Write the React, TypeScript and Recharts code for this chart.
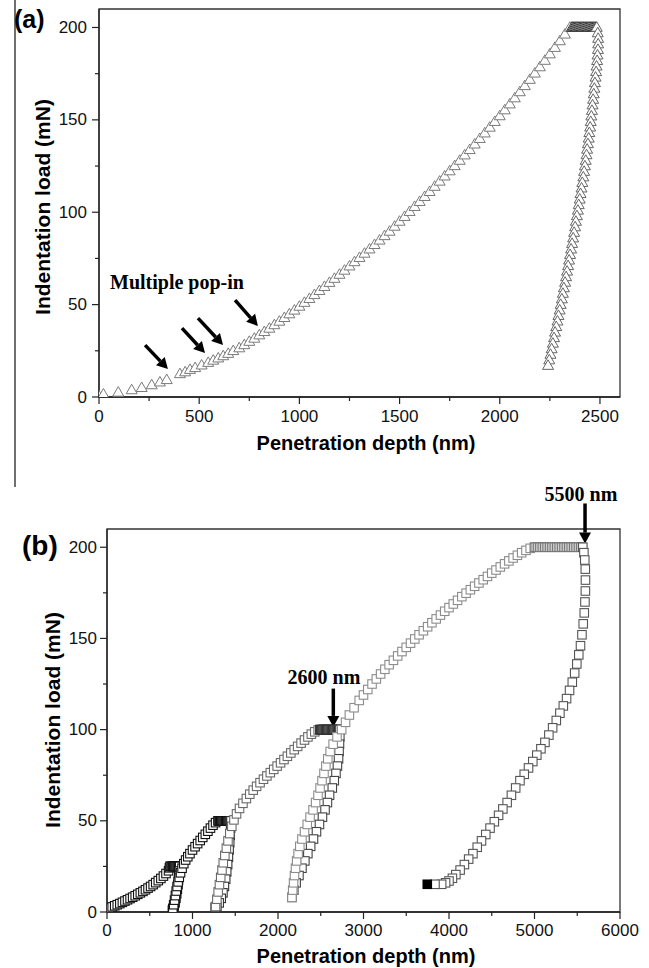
import React from 'react';
import { ScatterChart, Scatter, XAxis, YAxis, ReferenceLine, ReferenceArea } from 'recharts';

type Pt = [number, number];
const pts = (a: Pt[]) => a.map(([x, y]) => ({ x, y }));

// ---------- panel (a) ----------
const aLoading: Pt[] = [
  [0, 0.5], [22, 1.5], [96, 2.5], [163, 3.8], [213, 5], [263, 6.5], [304, 8], [338, 9.3],
  [404, 12.5], [430, 13.5], [454, 14.8], [480, 15.8], [512, 17.2], [545, 18.6], [570, 19.8],
  [595, 21], [620, 22.2], [645, 23.5], [670, 25], [700, 26.5], [725, 28.2], [750, 30],
  [775, 31.7], [800, 33.5], [825, 35.3], [850, 37.1], [875, 39], [900, 40.9], [925, 42.9],
  [950, 44.9], [975, 46.9], [1000, 49], [1025, 51.1], [1050, 53.2], [1075, 55.3], [1100, 57.5],
  [1125, 59.7], [1150, 61.9], [1175, 64.1], [1200, 66.3], [1225, 68.5], [1250, 70.8],
  [1275, 73.1], [1300, 75.4], [1325, 77.7], [1350, 80], [1375, 82.4], [1400, 84.8],
  [1425, 87.2], [1450, 89.6], [1475, 92.3], [1500, 95], [1525, 97.6], [1550, 100.3],
  [1575, 103], [1600, 105.7], [1625, 108.4], [1650, 111.1], [1675, 113.9], [1700, 116.7],
  [1725, 119.5], [1750, 122.3], [1775, 125.1], [1800, 128], [1825, 130.9], [1850, 133.8],
  [1875, 136.8], [1900, 139.8], [1925, 142.8], [1950, 145.9], [1975, 149], [2000, 152.1],
  [2025, 155.3], [2050, 158.5], [2075, 161.8], [2100, 165.1], [2125, 168.4], [2150, 171.8],
  [2175, 175.2], [2200, 178.6], [2225, 182.1], [2250, 185.6], [2275, 189.1], [2300, 192.7],
  [2325, 196.3], [2350, 200],
];
const aHold: Pt[] = [
  [2360, 200], [2366, 200], [2372, 200], [2378, 200], [2384, 200], [2390, 200], [2396, 200],
  [2402, 200], [2408, 200], [2414, 200], [2420, 200], [2426, 200], [2432, 200], [2438, 200],
  [2444, 200], [2450, 200], [2456, 200], [2462, 200], [2468, 200], [2474, 200], [2480, 200],
];
const aUnloading: Pt[] = [
  [2484, 200], [2489, 197], [2491, 194], [2491, 191], [2490, 188], [2488, 185], [2486, 182],
  [2483, 179], [2481, 176], [2478, 173], [2475, 170], [2472, 167], [2469, 164], [2466, 161],
  [2463, 158], [2460, 155], [2457, 152], [2454, 149], [2451, 146], [2447, 143], [2444, 140],
  [2440, 137], [2436, 134], [2433, 131], [2429, 128], [2425, 125], [2421, 122], [2417, 119],
  [2412, 116], [2408, 113], [2403, 110], [2399, 107], [2394, 104], [2390, 101], [2385, 98],
  [2380, 95], [2376, 92], [2371, 89], [2366, 86], [2361, 83], [2356, 80], [2351, 77],
  [2346, 74], [2341, 71], [2336, 68], [2331, 65], [2326, 62], [2320, 59], [2315, 56],
  [2310, 53], [2304, 50], [2299, 47], [2293, 44], [2288, 41], [2282, 38], [2276, 35],
  [2271, 32], [2265, 29], [2259, 26], [2253, 23], [2247, 20], [2241, 17],
];
const aXTicks = [0, 250, 500, 750, 1000, 1250, 1500, 1750, 2000, 2250, 2500];
const aYTicks = [0, 25, 50, 75, 100, 125, 150, 175, 200];
// pop-in arrows: [tailX, tailY, headX, headY]
const aArrows = [
  [230, 28.1, 344, 15.1],
  [414, 37.3, 529, 23.8],
  [494, 42.7, 619, 28.1],
  [679, 52.4, 793, 38.4],
];

// ---------- panel (b) ----------
const bLoad1: Pt[] = [
  [0, 1.5], [30, 2.2], [60, 2.8], [90, 3.4], [120, 4], [150, 4.6], [180, 5.3], [210, 6],
  [240, 6.7], [270, 7.4], [300, 8.1], [330, 8.9], [360, 9.7], [390, 10.5], [420, 11.3],
  [450, 12.2], [480, 13.1], [510, 14], [540, 15], [570, 16.1], [600, 17.2], [630, 18.4],
  [660, 19.7], [690, 21.1], [720, 22.6], [730, 24.2], [740, 25],
];
const bHold1: Pt[] = [
  [740, 25], [750, 25], [760, 25], [770, 25], [780, 25], [790, 25], [800, 25], [810, 25],
  [820, 25], [830, 25], [840, 25], [850, 25],
];
const bUnload1: Pt[] = [
  [850, 25], [846, 22.5], [841, 20], [836, 17.5], [830, 15], [823, 12.5], [815, 10],
  [806, 7.5], [796, 5], [785, 3], [772, 1.5], [765, 1],
];
const bLoad2: Pt[] = [
  [770, 2], [780, 4], [790, 6.5], [800, 9], [810, 11.5], [820, 14], [832, 16.5], [845, 19],
  [860, 21.5], [878, 24], [898, 26.5], [920, 28.5], [945, 30.3], [970, 32], [1000, 34],
  [1030, 35.8], [1060, 37.5], [1090, 39.2], [1120, 40.9], [1150, 42.6], [1180, 44.3],
  [1210, 46], [1240, 47.6], [1270, 49], [1300, 50],
];
const bHold2: Pt[] = [
  [1300, 50], [1310, 50], [1320, 50], [1330, 50], [1340, 50], [1350, 50], [1360, 50],
  [1370, 50], [1380, 50], [1390, 50], [1400, 50], [1410, 50], [1420, 50], [1430, 50],
  [1440, 50], [1450, 50],
];
const bUnload2: Pt[] = [
  [1450, 50], [1446, 46], [1441, 42], [1435, 38], [1428, 34], [1420, 30], [1411, 26],
  [1400, 22], [1388, 18], [1373, 14], [1356, 10.5], [1336, 7.5], [1312, 5], [1285, 3],
  [1265, 2.5],
];
const bLoad3: Pt[] = [
  [1270, 3], [1285, 7], [1300, 11], [1315, 15], [1330, 19], [1345, 23], [1360, 27],
  [1378, 31], [1396, 35], [1415, 39], [1436, 43], [1460, 47], [1485, 50.5], [1515, 53.8],
  [1550, 56.8], [1590, 59.6], [1630, 62.2], [1670, 64.6], [1710, 66.8], [1750, 68.9],
  [1790, 70.9], [1830, 72.8], [1870, 74.6], [1910, 76.4], [1950, 78.2], [1990, 80],
  [2030, 81.8], [2070, 83.6], [2110, 85.4], [2150, 87.2], [2190, 89], [2230, 90.8],
  [2270, 92.6], [2310, 94.3], [2350, 96], [2390, 97.5], [2430, 98.8], [2470, 99.8], [2490, 100],
];
const bHold3: Pt[] = [
  [2490, 100], [2500, 100], [2510, 100], [2520, 100], [2530, 100], [2540, 100], [2550, 100],
  [2560, 100], [2570, 100], [2580, 100], [2590, 100], [2600, 100], [2610, 100], [2620, 100],
  [2630, 100], [2640, 100], [2650, 100], [2660, 100], [2670, 100], [2680, 100], [2690, 100],
  [2700, 100], [2710, 100], [2720, 100],
];
const bUnload3: Pt[] = [
  [2725, 100], [2723, 96], [2719, 92], [2714, 88], [2708, 84], [2695, 80], [2678, 76],
  [2658, 72], [2635, 68], [2603, 64], [2578, 60], [2550, 56], [2520, 52], [2485, 48],
  [2450, 44], [2415, 40], [2382, 36], [2349, 32], [2314, 28], [2280, 24], [2245, 20],
  [2212, 16], [2185, 12], [2163, 8],
];
const bLoad4: Pt[] = [
  [2163, 8], [2172, 12], [2182, 16], [2193, 20], [2205, 24], [2218, 28], [2235, 32],
  [2255, 36], [2280, 40], [2310, 44], [2342, 48], [2375, 52], [2410, 56], [2440, 60],
  [2468, 64], [2492, 68], [2515, 72], [2538, 76], [2560, 80], [2582, 84], [2610, 88],
  [2645, 92], [2690, 96], [2745, 100], [2790, 104], [2835, 108], [2890, 112], [2950, 116],
  [3000, 119], [3050, 122], [3100, 125], [3150, 127.8], [3200, 130.5], [3250, 133.1],
  [3300, 135.6], [3350, 138], [3400, 140.4], [3450, 142.8], [3500, 145.1], [3550, 147.4],
  [3600, 149.7], [3650, 152], [3700, 154.2], [3750, 156.4], [3800, 158.6], [3850, 160.7],
  [3900, 162.8], [3950, 164.9], [4000, 166.9], [4050, 168.9], [4100, 170.9], [4150, 172.9],
  [4200, 174.8], [4250, 176.7], [4300, 178.6], [4350, 180.4], [4400, 182.2], [4450, 184],
  [4500, 185.8], [4550, 187.5], [4600, 189.2], [4650, 190.9], [4700, 192.5], [4750, 194.1],
  [4800, 195.6], [4850, 197], [4900, 198.3], [4950, 199.4], [5000, 200],
];
const bHold4: Pt[] = [
  [5000, 200], [5020, 200], [5040, 200], [5060, 200], [5080, 200], [5100, 200], [5120, 200],
  [5140, 200], [5160, 200], [5180, 200], [5200, 200], [5220, 200], [5240, 200], [5260, 200],
  [5280, 200], [5300, 200], [5320, 200], [5340, 200], [5360, 200], [5380, 200], [5400, 200],
  [5420, 200], [5440, 200], [5460, 200], [5480, 200], [5500, 200], [5520, 200], [5540, 200],
  [5560, 200],
];
const bUnload4: Pt[] = [
  [5565, 200], [5578, 197], [5588, 193], [5594, 188], [5596, 182], [5595, 176], [5590, 170],
  [5582, 164], [5570, 158], [5555, 152], [5538, 146], [5518, 141], [5495, 136], [5470, 131],
  [5442, 126], [5410, 121.5], [5375, 117], [5337, 113], [5297, 109], [5255, 105], [5212, 101],
  [5168, 97], [5122, 93], [5075, 89.5], [5027, 86], [4980, 82.5], [4930, 79], [4880, 75.5],
  [4830, 72], [4780, 68], [4730, 64], [4680, 60], [4630, 56.5], [4580, 53], [4530, 49.5],
  [4480, 46], [4430, 42.5], [4380, 39], [4330, 35.5], [4280, 32], [4230, 29], [4180, 26],
  [4130, 23], [4080, 20.5], [4040, 18.5], [4000, 17], [3960, 16], [3914, 15.2], [3836, 15.2],
];
const bEnd: Pt[] = [[3746, 15.2]];
const bXTicks = [0, 500, 1000, 1500, 2000, 2500, 3000, 3500, 4000, 4500, 5000, 5500, 6000];
const bYTicks = [0, 25, 50, 75, 100, 125, 150, 175, 200];
const bArrows = [
  [2647, 122.5, 2647, 101.5],
  [5591, 224, 5591, 202],
];

const SANS = '"Liberation Sans", Arial, sans-serif';
const SERIF = '"Liberation Serif", "Times New Roman", serif';

const makeXTick = (major: number, gap: number) => (props: any) => {
  const { x, y, payload } = props;
  const isMajor = payload.value % major === 0;
  return (
    <g>
      <line x1={x} x2={x} y1={y} y2={y + (isMajor ? 7 : 4)} stroke="#222" strokeWidth={1.2} />
      {isMajor && (
        <text x={x} y={y + gap} textAnchor="middle" dominantBaseline="central"
          fontSize={17} fontFamily={SANS} fill="#111">{payload.value}</text>
      )}
    </g>
  );
};

const makeYTick = (major: number, gap: number) => (props: any) => {
  const { x, y, payload } = props;
  const isMajor = payload.value % major === 0;
  return (
    <g>
      <line x1={x - (isMajor ? 7 : 4)} x2={x} y1={y} y2={y} stroke="#222" strokeWidth={1.2} />
      {isMajor && (
        <text x={x - gap} y={y} textAnchor="end" dominantBaseline="central"
          fontSize={17} fontFamily={SANS} fill="#111">{payload.value}</text>
      )}
    </g>
  );
};

const triangle = (stroke: string) => (props: any) => {
  const { cx, cy } = props;
  const s = 11;
  const h = s * 0.866;
  return (
    <polygon
      points={`${cx},${cy - h / 2 - 1} ${cx - s / 2},${cy + h / 2 - 1} ${cx + s / 2},${cy + h / 2 - 1}`}
      fill="#fff" stroke={stroke} strokeWidth={1} />
  );
};

const square = (stroke: string, fill = '#fff') => (props: any) => {
  const { cx, cy } = props;
  return <rect x={cx - 4.25} y={cy - 4.25} width={8.5} height={8.5} fill={fill} stroke={stroke} strokeWidth={1.1} />;
};

const arrowShape = (props: any) => {
  const { x1, y1, x2, y2 } = props;
  const dx = x2 - x1;
  const dy = y2 - y1;
  const len = Math.sqrt(dx * dx + dy * dy) || 1;
  const ux = dx / len;
  const uy = dy / len;
  const head = 11;
  const bx = x2 - ux * head;
  const by = y2 - uy * head;
  const w = 6;
  return (
    <g>
      <line x1={x1} y1={y1} x2={bx} y2={by} stroke="#000" strokeWidth={3.5} />
      <polygon points={`${x2},${y2} ${bx - uy * w},${by + ux * w} ${bx + uy * w},${by - ux * w}`} fill="#000" />
    </g>
  );
};

const ChartA = () => (
  <ScatterChart width={649} height={460} margin={{ top: 9, right: 29, bottom: 0, left: 0 }}>
    <XAxis type="number" dataKey="x" domain={[0, 2600]} ticks={aXTicks} tickSize={0} tickMargin={0}
      height={63} interval={0} tick={makeXTick(500, 19)} tickLine={false}
      axisLine={{ stroke: '#222', strokeWidth: 1.3 }} allowDataOverflow />
    <YAxis type="number" dataKey="y" domain={[0, 210]} ticks={aYTicks} tickSize={0} tickMargin={0}
      width={99} interval={0} tick={makeYTick(50, 12)} tickLine={false}
      axisLine={{ stroke: '#222', strokeWidth: 1.3 }} allowDataOverflow />
    <ReferenceArea x1={0} x2={2600} y1={0} y2={210} fill="none" stroke="#333" strokeWidth={1.3} ifOverflow="visible" />
    <Scatter data={pts(aLoading)} shape={triangle('#7a7a7a')} isAnimationActive={false} />
    <Scatter data={pts(aHold)} shape={triangle('#333')} isAnimationActive={false} />
    <Scatter data={pts(aUnloading)} shape={triangle('#666')} isAnimationActive={false} />
    {aArrows.map((a, i) => (
      <ReferenceLine key={i} segment={[{ x: a[0], y: a[1] }, { x: a[2], y: a[3] }]}
        shape={arrowShape} ifOverflow="visible" />
    ))}
  </ScatterChart>
);

const ChartB = () => (
  <ScatterChart width={649} height={508} margin={{ top: 69, right: 29, bottom: 0, left: 0 }}>
    <XAxis type="number" dataKey="x" domain={[0, 6000]} ticks={bXTicks} tickSize={0} tickMargin={0}
      height={56} interval={0} tick={makeXTick(1000, 18)} tickLine={false}
      axisLine={{ stroke: '#222', strokeWidth: 1.3 }} allowDataOverflow />
    <YAxis type="number" dataKey="y" domain={[0, 210]} ticks={bYTicks} tickSize={0} tickMargin={0}
      width={107} interval={0} tick={makeYTick(50, 10)} tickLine={false}
      axisLine={{ stroke: '#222', strokeWidth: 1.3 }} allowDataOverflow />
    <ReferenceArea x1={0} x2={6000} y1={0} y2={210} fill="none" stroke="#333" strokeWidth={1.3} ifOverflow="visible" />
    <Scatter data={pts(bLoad1)} shape={square('#111')} isAnimationActive={false} />
    <Scatter data={pts(bHold1)} shape={square('#111')} isAnimationActive={false} />
    <Scatter data={pts(bUnload1)} shape={square('#111')} isAnimationActive={false} />
    <Scatter data={pts(bLoad2)} shape={square('#111')} isAnimationActive={false} />
    <Scatter data={pts(bHold2)} shape={square('#111')} isAnimationActive={false} />
    <Scatter data={pts(bUnload2)} shape={square('#333')} isAnimationActive={false} />
    <Scatter data={pts(bLoad3)} shape={square('#6a6a6a')} isAnimationActive={false} />
    <Scatter data={pts(bHold3)} shape={square('#333')} isAnimationActive={false} />
    <Scatter data={pts(bUnload3)} shape={square('#444')} isAnimationActive={false} />
    <Scatter data={pts(bLoad4)} shape={square('#8c8c8c')} isAnimationActive={false} />
    <Scatter data={pts(bHold4)} shape={square('#777')} isAnimationActive={false} />
    <Scatter data={pts(bUnload4)} shape={square('#555')} isAnimationActive={false} />
    <Scatter data={pts(bEnd)} shape={square('#000', '#000')} isAnimationActive={false} />
    {bArrows.map((a, i) => (
      <ReferenceLine key={i} segment={[{ x: a[0], y: a[1] }, { x: a[2], y: a[3] }]}
        shape={arrowShape} ifOverflow="visible" />
    ))}
  </ScatterChart>
);

export default function App() {
  return (
    <div style={{ position: 'absolute', left: 0, top: 0, width: 649, height: 968, background: '#fff' }}>
      <div style={{ position: 'absolute', left: 0, top: 0 }}>
        <ChartA />
      </div>
      <div style={{ position: 'absolute', left: 0, top: 460 }}>
        <ChartB />
      </div>
      <svg width={649} height={968} style={{ position: 'absolute', left: 0, top: 0, pointerEvents: 'none' }}>
        <line x1={15} x2={15} y1={0} y2={487} stroke="#222" strokeWidth={1.3} />
        <text x={14} y={19} dominantBaseline="central" fontSize={25} fontWeight="bold" fontFamily={SANS}>(a)</text>
        <text x={22} y={545} dominantBaseline="central" fontSize={28} fontWeight="bold" fontFamily={SANS}>(b)</text>
        <text x={366} y={443} textAnchor="middle" dominantBaseline="central" fontSize={20} fontWeight="bold" fontFamily={SANS}>Penetration depth (nm)</text>
        <text x={366} y={956} textAnchor="middle" dominantBaseline="central" fontSize={20} fontWeight="bold" fontFamily={SANS}>Penetration depth (nm)</text>
        <text transform="translate(42,207) rotate(-90)" textAnchor="middle" dominantBaseline="central" fontSize={21} fontWeight="bold" fontFamily={SANS}>Indentation load (mN)</text>
        <text transform="translate(52,720) rotate(-90)" textAnchor="middle" dominantBaseline="central" fontSize={21} fontWeight="bold" fontFamily={SANS}>Indentation load (mN)</text>
        <text x={110} y={282} dominantBaseline="central" fontSize={20} fontWeight="bold" fontFamily={SERIF}>Multiple pop-in</text>
        <text x={324} y={677} textAnchor="middle" dominantBaseline="central" fontSize={20} fontWeight="bold" fontFamily={SERIF}>2600 nm</text>
        <text x={581} y={494} textAnchor="middle" dominantBaseline="central" fontSize={20} fontWeight="bold" fontFamily={SERIF}>5500 nm</text>
      </svg>
    </div>
  );
}
